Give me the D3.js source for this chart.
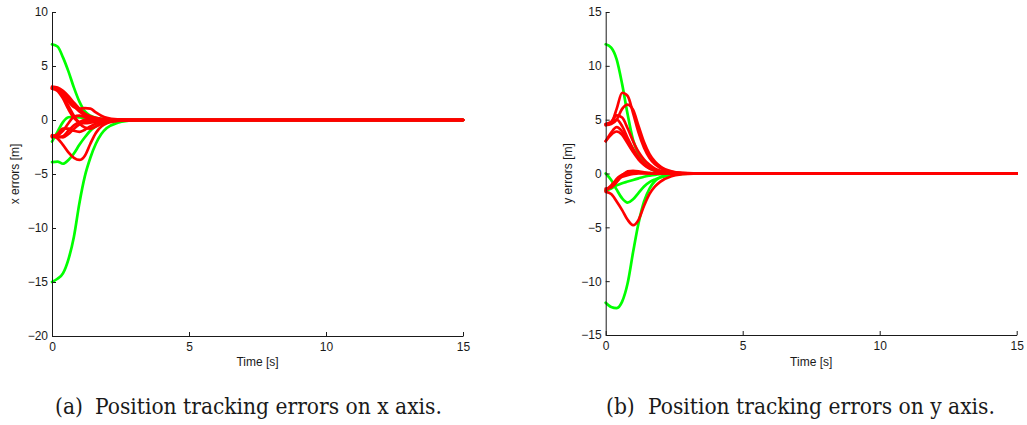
<!DOCTYPE html>
<html>
<head>
<meta charset="utf-8">
<script src="https://cdn.jsdelivr.net/npm/d3@7"></script>
<style>
  html, body { margin: 0; padding: 0; background: #fff; }
  svg { display: block; }
</style>
</head>
<body>
<svg id="chart" width="1027" height="425"></svg>
<script>
// ---- data ----
const TIME = [0, 0.2, 0.4, 0.6, 0.8, 1.0, 1.2, 1.4, 1.6, 1.8, 2.0, 2.4, 2.8, 3.2, 15];

// x-axis errors (green agents)
const xGreenA = [7.0, 6.8, 5.8, 4.5, 3.0, 1.7, 0.8, 0.4, 0.2, 0.1, 0.05, 0.01, 0, 0, 0];
const xGreenB = [-15.0, -14.7, -14.2, -12.9, -10.8, -7.7, -5.2, -3.5, -2.2, -1.3, -0.75, -0.25, -0.07, 0, 0];
const xGreenC = [-3.9, -3.85, -4.05, -3.7, -3.1, -2.3, -1.6, -1.0, -0.6, -0.35, -0.2, -0.06, -0.01, 0, 0];
const xGreenD = [-2.0, -1.1, -0.2, 0.25, 0.3, 0.25, 0.2, 0.15, 0.1, 0.07, 0.04, 0.01, 0, 0, 0];
// x-axis errors (red agents)
const xRed1 = [3.1, 3.0, 2.7, 2.2, 1.6, 1.05, 0.6, 0.35, 0.2, 0.1, 0.05, 0.01, 0, 0, 0];
const xRed2 = [3.0, 2.9, 2.5, 1.9, 1.3, 0.8, 0.45, 0.25, 0.12, 0.06, 0.03, 0.01, 0, 0, 0];
const xRed3 = [2.9, 2.85, 2.4, 1.7, 1.2, 1.05, 1.1, 1.05, 0.7, 0.4, 0.2, 0.05, 0.01, 0, 0];
const xRed4 = [3.0, 2.8, 2.2, 1.3, 0.4, -0.3, -0.7, -0.8, -0.6, -0.35, -0.2, -0.05, 0, 0, 0];
const xRed5 = [2.9, 2.7, 2.0, 1.0, 0.2, -0.2, -0.3, -0.25, -0.15, -0.08, -0.04, -0.01, 0, 0, 0];
const xRed6 = [-1.5, -1.7, -2.3, -3.0, -3.5, -3.7, -3.3, -2.2, -1.2, -0.6, -0.3, -0.08, -0.02, 0, 0];
const xRed7 = [-1.5, -1.4, -1.0, -0.3, 0.3, 0.4, 0.3, 0.2, 0.1, 0.05, 0.02, 0, 0, 0, 0];
const xRed8 = [-1.4, -1.6, -1.5, -1.0, -0.5, -0.2, 0.05, 0.1, 0.08, 0.04, 0.02, 0, 0, 0, 0];
const xRed9 = [-1.6, -1.3, -0.8, -0.8, -1.0, -1.1, -0.9, -0.6, -0.35, -0.2, -0.1, -0.02, 0, 0, 0];
const xRed10 = [-1.5, -1.5, -1.6, -1.3, -0.8, -0.4, -0.15, -0.05, 0, 0, 0, 0, 0, 0, 0];

// y-axis errors (green agents)
const yGreenA = [12.0, 11.7, 10.6, 8.3, 5.5, 3.1, 1.8, 1.0, 0.5, 0.25, 0.12, 0.03, 0.01, 0, 0];
const yGreenB = [-12.0, -12.4, -12.5, -11.9, -10.2, -7.3, -4.6, -2.6, -1.4, -0.7, -0.35, -0.08, -0.02, 0, 0];
const yGreenC = [0, -0.6, -1.5, -2.3, -2.7, -2.4, -1.8, -1.2, -0.8, -0.55, -0.35, -0.12, -0.03, 0, 0];
const yGreenD = [-1.6, -1.4, -1.1, -0.9, -0.75, -0.6, -0.45, -0.3, -0.2, -0.12, -0.07, -0.02, 0, 0, 0];
// y-axis errors (red agents)
const yRed1 = [4.6, 4.7, 6.0, 7.5, 7.2, 5.6, 3.8, 2.4, 1.45, 0.85, 0.5, 0.15, 0.04, 0.01, 0];
const yRed2 = [4.5, 4.6, 5.0, 6.0, 6.4, 5.9, 4.4, 2.9, 1.8, 1.1, 0.65, 0.2, 0.05, 0.01, 0];
const yRed3 = [4.6, 4.8, 5.4, 5.2, 4.2, 3.0, 2.0, 1.3, 0.8, 0.45, 0.25, 0.07, 0.02, 0, 0];
const yRed4 = [4.5, 4.7, 5.0, 4.4, 3.3, 2.3, 1.5, 0.9, 0.55, 0.3, 0.17, 0.05, 0.01, 0, 0];
const yRed5 = [3.0, 3.8, 4.3, 3.9, 3.0, 2.1, 1.4, 0.85, 0.5, 0.3, 0.15, 0.04, 0.01, 0, 0];
const yRed6 = [3.0, 3.6, 3.9, 3.6, 2.8, 2.0, 1.3, 0.8, 0.45, 0.25, 0.13, 0.03, 0, 0, 0];
const yRed7 = [-1.7, -1.9, -2.6, -3.4, -4.3, -4.8, -4.3, -3.0, -1.9, -1.2, -0.75, -0.25, -0.07, -0.01, 0];
const yRed8 = [-1.6, -1.1, -0.6, -0.3, -0.15, -0.05, 0, 0, 0, 0, 0, 0, 0, 0, 0];
const yRed9 = [-1.4, -1.3, -0.8, -0.2, 0.2, 0.25, 0.2, 0.1, 0.05, 0.02, 0, 0, 0, 0, 0];
const yRed10 = [-1.5, -1.2, -0.5, -0.1, 0.05, 0.1, 0.08, 0.05, 0.02, 0, 0, 0, 0, 0, 0];

const xTicks = [0, 5, 10, 15];
const leftYTicks = [-20, -15, -10, -5, 0, 5, 10];
const rightYTicks = [-15, -10, -5, 0, 5, 10, 15];
const xLabel = "Time [s]";
const leftYLabel = "x errors [m]";
const rightYLabel = "y errors [m]";
const leftCaptionTag = "(a)";
const leftCaption = "Position tracking errors on x axis.";
const rightCaptionTag = "(b)";
const rightCaption = "Position tracking errors on y axis.";

// ---- drawing ----
const svg = d3.select("#chart");
svg.append("rect").attr("width", 1027).attr("height", 425).attr("fill", "#fff");

const GREEN = "#00ff00", RED = "#ff0000";
const AXIS_FONT = "'Liberation Sans', Arial, Helvetica, sans-serif";
const CAP_FONT = "'DejaVu Serif Condensed', 'Liberation Serif', serif";
const fmt = d => d < 0 ? "\u2212" + Math.abs(d) : String(d);

function panel(cfg) {
  const x = d3.scaleLinear().domain([0, 15]).range([cfg.x0, cfg.x1]);
  const y = d3.scaleLinear().domain(cfg.yDomain).range([cfg.yBottom, cfg.yTop]);
  const g = svg.append("g");

  const line = d3.line()
    .x((d, i) => x(TIME[i]))
    .y(d => y(d))
    .curve(d3.curveMonotoneX);

  const lines = g.append("g").attr("fill", "none").attr("stroke-width", 2.7)
    .attr("stroke-linejoin", "round").attr("stroke-linecap", "round");
  cfg.green.forEach(s => lines.append("path").attr("d", line(s)).attr("stroke", GREEN));
  cfg.red.forEach(s => lines.append("path").attr("d", line(s)).attr("stroke", RED));

  const xa = g.append("g").attr("transform", `translate(0,${cfg.yBottom})`)
    .call(d3.axisBottom(x).tickValues(xTicks).tickFormat(fmt)
      .tickSizeInner(-4).tickSizeOuter(0).tickPadding(6));
  const ya = g.append("g").attr("transform", `translate(${cfg.x0},0)`)
    .call(d3.axisLeft(y).tickValues(cfg.yTicks).tickFormat(fmt)
      .tickSizeInner(-4).tickSizeOuter(0).tickPadding(4));
  [xa, ya].forEach(a => {
    a.selectAll("path, line").attr("stroke", "#1a1a1a").attr("stroke-width", 1);
    a.selectAll("text").attr("font-family", AXIS_FONT).attr("font-size", 12).attr("fill", "#1a1a1a");
  });

  g.append("text")
    .attr("x", (cfg.x0 + cfg.x1) / 2).attr("y", 366)
    .attr("text-anchor", "middle")
    .attr("font-family", AXIS_FONT).attr("font-size", 12).attr("fill", "#1a1a1a")
    .text(xLabel);

  g.append("text")
    .attr("transform", `translate(${cfg.ylabX},${(cfg.yTop + cfg.yBottom) / 2}) rotate(-90)`)
    .attr("text-anchor", "middle")
    .attr("font-family", AXIS_FONT).attr("font-size", 12).attr("fill", "#1a1a1a")
    .text(cfg.ylabel);

  // caption
  const tag = g.append("text").attr("x", cfg.capTagX).attr("y", 414)
    .attr("font-family", CAP_FONT).attr("font-size", 18).attr("fill", "#1a1a1a")
    .text(cfg.capTag);
  const cap = g.append("text").attr("x", cfg.capX).attr("y", 414)
    .attr("font-family", CAP_FONT).attr("font-size", 18).attr("fill", "#1a1a1a")
    .text(cfg.caption);
  const w = cap.node().getComputedTextLength();
  const fs = 18 * cfg.capW / w;
  cap.attr("font-size", fs);
  tag.attr("font-size", fs);
}

panel({
  x0: 52, x1: 463, yTop: 12, yBottom: 336, yDomain: [-20, 10], yTicks: leftYTicks,
  green: [xGreenA, xGreenB, xGreenC, xGreenD],
  red: [xRed1, xRed2, xRed3, xRed4, xRed5, xRed6, xRed7, xRed8, xRed9, xRed10],
  ylabel: leftYLabel, ylabX: 19,
  capTag: leftCaptionTag, capTagX: 55, caption: leftCaption, capX: 95, capW: 347
});

panel({
  x0: 605.7, x1: 1016.7, yTop: 12, yBottom: 335, yDomain: [-15, 15], yTicks: rightYTicks,
  green: [yGreenA, yGreenB, yGreenC, yGreenD],
  red: [yRed1, yRed2, yRed3, yRed4, yRed5, yRed6, yRed7, yRed8, yRed9, yRed10],
  ylabel: rightYLabel, ylabX: 572,
  capTag: rightCaptionTag, capTagX: 606, caption: rightCaption, capX: 648, capW: 347
});
</script>
</body>
</html>
